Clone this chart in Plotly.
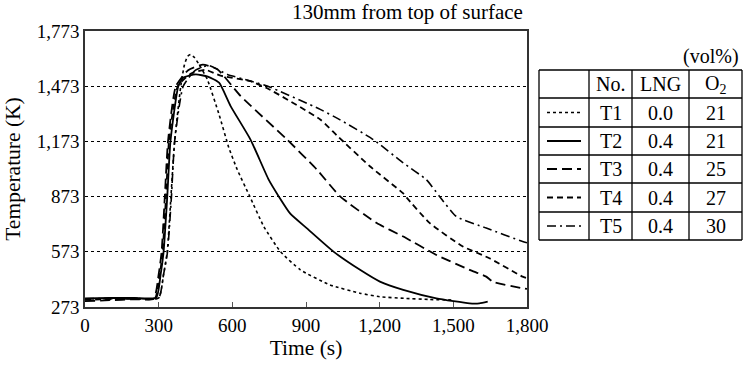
import plotly.graph_objects as go

# ---------------- data ----------------
t1_time = [0, 100, 200, 300, 320, 335, 350, 365, 390, 405, 418, 430, 445, 465, 498, 546, 586, 620, 671, 728, 796, 877, 998, 1120, 1200, 1300, 1400, 1500]
t1_temp = [318, 318, 320, 322, 450, 573, 873, 1173, 1473, 1590, 1635, 1645, 1630, 1590, 1510, 1319, 1138, 1020, 874, 711, 574, 475, 393, 348, 329, 320, 314, 311]

t2_time = [0, 100, 200, 290, 308, 320, 335, 348, 380, 400, 451, 500, 546, 593, 674, 748, 789, 836, 904, 1012, 1120, 1201, 1296, 1431, 1566, 1606, 1640]
t2_temp = [320, 322, 322, 324, 450, 573, 873, 1173, 1473, 1519, 1537, 1525, 1492, 1365, 1183, 965, 874, 780, 700, 574, 475, 411, 366, 320, 293, 293, 302]

t3_time = [0, 100, 200, 280, 300, 312, 325, 338, 370, 420, 480, 539, 634, 823, 944, 1039, 1188, 1296, 1431, 1566, 1634, 1660, 1782, 1800]
t3_temp = [305, 310, 315, 318, 450, 573, 873, 1173, 1473, 1560, 1590, 1565, 1419, 1183, 1020, 874, 729, 656, 556, 475, 438, 411, 375, 371]

t4_time = [0, 100, 200, 285, 305, 316, 330, 342, 378, 430, 490, 552, 674, 742, 958, 1026, 1160, 1296, 1310, 1404, 1539, 1647, 1782, 1800]
t4_temp = [312, 315, 318, 320, 450, 573, 873, 1173, 1473, 1540, 1562, 1530, 1500, 1462, 1292, 1205, 1038, 890, 867, 729, 602, 538, 438, 430]

t5_time = [0, 100, 200, 300, 320, 336, 352, 365, 400, 450, 504, 580, 674, 742, 958, 1039, 1174, 1296, 1390, 1444, 1512, 1634, 1782, 1800]
t5_temp = [318, 320, 320, 322, 450, 573, 873, 1173, 1473, 1560, 1585, 1537, 1501, 1474, 1347, 1290, 1183, 1056, 965, 874, 765, 702, 629, 622]

series_names = ["T1", "T2", "T3", "T4", "T5"]
lng_values = ["0.0", "0.4", "0.4", "0.4", "0.4"]
o2_values = ["21", "21", "25", "27", "30"]

x_ticks = [0, 300, 600, 900, 1200, 1500, 1800]
x_labels = ["0", "300", "600", "900", "1,200", "1,500", "1,800"]
y_ticks = [273, 573, 873, 1173, 1473, 1773]
y_labels = ["273", "573", "873", "1,173", "1,473", "1,773"]

# ---------------- styles ----------------
FONT = "Liberation Serif, Times New Roman, serif"
dashes = ["dot", "solid", "10px,5px", "6px,4px", "9px,4px,2px,4px"]
widths = [1.6, 1.8, 1.8, 1.8, 1.6]

W, H = 750, 366
L, R, T, B = 85, 223, 31, 59
PW, PH = W - L - R, H - T - B

def px(x):
    return (x - L) / PW

def py(y):
    return (H - B - y) / PH

fig = go.Figure()
all_t = [t1_time, t2_time, t3_time, t4_time, t5_time]
all_k = [t1_temp, t2_temp, t3_temp, t4_temp, t5_temp]
for name, tt, kk, d, w in zip(series_names, all_t, all_k, dashes, widths):
    fig.add_trace(go.Scatter(x=tt, y=kk, mode="lines", name=name,
                             line=dict(color="black", dash=d, width=w, shape="spline", smoothing=0.5),
                             showlegend=False))

shapes = []
# legend table
col_x = [539, 589, 632, 689, 742]
row_y = [70, 98, 127, 155, 183, 212, 240]
for x in col_x:
    shapes.append(dict(type="line", xref="paper", yref="paper", x0=px(x), x1=px(x), y0=py(row_y[0]), y1=py(row_y[-1]),
                       line=dict(color="black", width=1.3)))
for y in row_y:
    shapes.append(dict(type="line", xref="paper", yref="paper", x0=px(col_x[0]), x1=px(col_x[-1]), y0=py(y), y1=py(y),
                       line=dict(color="black", width=1.3)))
annotations = []
headers = ["No.", "LNG", "O<sub>2</sub>"]
for i, htxt in enumerate(headers):
    cx = (col_x[i + 1] + col_x[i + 2]) / 2
    annotations.append(dict(text=htxt, xref="paper", yref="paper", x=px(cx), y=py((row_y[0] + row_y[1]) / 2),
                            showarrow=False, font=dict(family=FONT, size=20, color="black"), xanchor="center", yanchor="middle"))
for r in range(5):
    cy = (row_y[r + 1] + row_y[r + 2]) / 2
    shapes.append(dict(type="line", xref="paper", yref="paper", x0=px(547), x1=px(581), y0=py(cy), y1=py(cy),
                       line=dict(color="black", width=widths[r], dash=dashes[r])))
    for c, val in enumerate([series_names[r], lng_values[r], o2_values[r]]):
        cx = (col_x[c + 1] + col_x[c + 2]) / 2
        annotations.append(dict(text=val, xref="paper", yref="paper", x=px(cx), y=py(cy),
                                showarrow=False, font=dict(family=FONT, size=20, color="black"), xanchor="center", yanchor="middle"))
annotations.append(dict(text="(vol%)", xref="paper", yref="paper", x=px(741), y=py(57), showarrow=False,
                        font=dict(family=FONT, size=20, color="black"), xanchor="right", yanchor="middle"))
annotations.append(dict(text="130mm from top of surface", xref="paper", yref="paper", x=px(525), y=py(12), showarrow=False,
                        font=dict(family=FONT, size=21, color="black"), xanchor="right", yanchor="middle"))

fig.update_layout(
    width=W, height=H,
    margin=dict(l=L, r=R, t=T, b=B, autoexpand=False),
    paper_bgcolor="white", plot_bgcolor="white",
    font=dict(family=FONT, size=19, color="black"),
    shapes=shapes, annotations=annotations,
    xaxis=dict(range=[0, 1800], tickvals=x_ticks, ticktext=x_labels, ticks="inside", ticklen=5, tickcolor="#555",
               showgrid=False, zeroline=False, showline=True, linecolor="#333", linewidth=1.6, mirror=True,
               automargin=False,
               title=dict(text="Time (s)", font=dict(size=21.5), standoff=2)),
    yaxis=dict(range=[273, 1773], tickvals=y_ticks, ticktext=y_labels, ticks="",
               showgrid=True, gridcolor="black", griddash="dot", gridwidth=1.3, zeroline=False,
               showline=True, linecolor="#333", linewidth=1.6, mirror=True, automargin=False,
               title=dict(text="Temperature (K)", font=dict(size=21.5), standoff=10)),
)

fig.write_html("out.html", config={"displayModeBar": False},
               post_script="document.body.style.margin='0';document.body.style.overflow='hidden';")
